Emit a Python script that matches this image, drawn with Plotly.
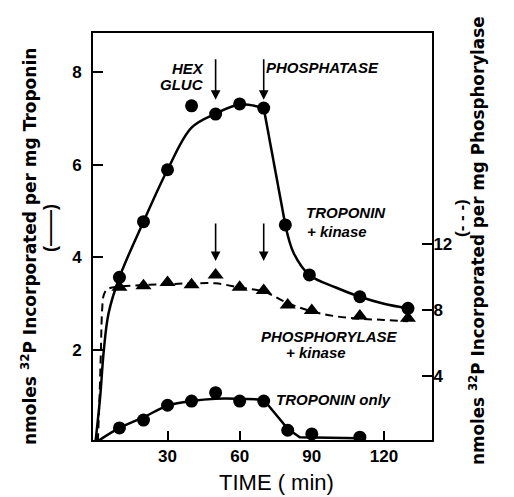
import plotly.graph_objects as go

# ---- data ----
time_trop_kinase = [10, 20, 30, 40, 50, 60, 70, 79, 89, 110, 130]
trop_kinase = [3.57, 4.77, 5.89, 7.27, 7.09, 7.31, 7.22, 4.70, 3.62, 3.15, 2.90]

# hand-drawn fit curve (solid), split at its corners
fit_tk_rise_t = [0, 2, 3.5, 5.5, 10, 20, 30, 40, 50, 60, 70]
fit_tk_rise_y = [0, 1.0, 2.0, 2.8, 3.57, 4.77, 5.89, 6.8, 7.1, 7.3, 7.22]
fit_tk_drop_t = [70, 79]
fit_tk_drop_y = [7.22, 4.70]
fit_tk_tail_t = [79, 82.5, 89, 100, 110, 120, 130]
fit_tk_tail_y = [4.70, 4.09, 3.62, 3.35, 3.15, 3.0, 2.9]

time_phos = [10, 20, 30, 40, 50, 60, 70, 80, 90, 110, 130]
phos_kinase = [9.37, 9.45, 9.65, 9.51, 10.1, 9.37, 9.16, 8.29, 7.95, 7.62, 7.48]
fit_phos_t = [1, 1.8, 2.3, 2.8, 3.5, 5, 10, 20, 30, 40, 50, 60, 70, 80, 90, 100, 110, 120, 130]
fit_phos_y = [0, 3.0, 5.6, 8.0, 8.9, 9.25, 9.4, 9.5, 9.55, 9.6, 9.6, 9.35, 9.1, 8.4, 7.9, 7.6, 7.45, 7.38, 7.3]

time_only = [10, 20, 30, 40, 50, 60, 70, 80, 90, 110]
trop_only = [0.32, 0.49, 0.81, 0.90, 1.08, 0.90, 0.90, 0.27, 0.19, 0.12]
fit_only_rise_t = [0, 10, 20, 30, 40, 50, 60, 70]
fit_only_rise_y = [0, 0.32, 0.55, 0.8, 0.9, 0.95, 0.95, 0.93]
fit_only_drop_t = [70, 80, 85, 110]
fit_only_drop_y = [0.93, 0.3, 0.12, 0.1]

arrow_times = [50, 70]
x_ticks = [30, 60, 90, 120]
left_ticks = [2, 4, 6, 8]
right_ticks = [4, 8, 12]

FONT = "Liberation Sans"
WIDE = "DejaVu Sans"
fig = go.Figure()

solid = dict(color="black", width=2.5)
for tx, ty, shape in [(fit_tk_rise_t, fit_tk_rise_y, "spline"),
                      (fit_tk_drop_t, fit_tk_drop_y, "linear"),
                      (fit_tk_tail_t, fit_tk_tail_y, "spline"),
                      (fit_only_rise_t, fit_only_rise_y, "spline"),
                      (fit_only_drop_t, fit_only_drop_y, "linear")]:
    fig.add_trace(go.Scatter(x=tx, y=ty, mode="lines", line=dict(solid, shape=shape),
                             hoverinfo="skip"))

fig.add_trace(go.Scatter(x=fit_phos_t, y=fit_phos_y, mode="lines", yaxis="y2",
                         line=dict(color="black", width=2, dash="8px,5px", shape="spline"),
                         hoverinfo="skip"))

fig.add_trace(go.Scatter(x=time_trop_kinase, y=trop_kinase, mode="markers",
                         marker=dict(symbol="circle", size=13, color="black")))
fig.add_trace(go.Scatter(x=time_only, y=trop_only, mode="markers",
                         marker=dict(symbol="circle", size=13, color="black")))
fig.add_trace(go.Scatter(x=time_phos, y=phos_kinase, mode="markers", yaxis="y2",
                         marker=dict(symbol="triangle-up", size=14, color="black")))

ann = []
# arrows
for t in arrow_times:
    ann.append(dict(x=t, y=7.40, xref="x", yref="y", ax=0, ay=-42, text="",
                    showarrow=True, arrowhead=2, arrowsize=1.2, arrowwidth=1.6,
                    arrowcolor="black"))
    ann.append(dict(x=t, y=3.92, xref="x", yref="y", ax=0, ay=-39, text="",
                    showarrow=True, arrowhead=2, arrowsize=1.2, arrowwidth=1.6,
                    arrowcolor="black"))

def px(x, y):
    return (x - 93) / 339, (440 - y) / 407

lab_font = dict(family=FONT, size=15, color="black")
def label(text, x, y, xanchor="left"):
    X, Y = px(x, y)
    ann.append(dict(x=X, y=Y, xref="paper", yref="paper", text="<b><i>" + text + "</i></b>",
                    showarrow=False, xanchor=xanchor, yanchor="middle", font=lab_font,
                    align="left"))

label("HEX", 206, 69, "right")
label("GLUC", 206, 85, "right")
label("PHOSPHATASE", 264, 67)
label("TROPONIN", 304, 212)
label("+ kinase", 305, 231)
label("PHOSPHORYLASE", 259, 336)
label("+ kinase", 284, 352)
label("TROPONIN only", 274, 399)

X, Y = px(29, 247)
ann.append(dict(x=X, y=Y, xref="paper", yref="paper", textangle=-90, showarrow=False,
                text="<b>nmoles <sup>32</sup>P Incorporated per mg Troponin</b>",
                xanchor="center", yanchor="middle",
                font=dict(family=WIDE, size=17, color="black")))
X, Y = px(50, 228)
ann.append(dict(x=X, y=Y, xref="paper", yref="paper", textangle=-90, showarrow=False,
                text="<b>(——)</b>", xanchor="center", yanchor="middle",
                font=dict(family=FONT, size=18, color="black")))
X, Y = px(477, 241)
ann.append(dict(x=X, y=Y, xref="paper", yref="paper", textangle=-90, showarrow=False,
                text="<b>nmoles <sup>32</sup>P Incorporated per mg Phosphorylase</b>",
                xanchor="center", yanchor="middle",
                font=dict(family=WIDE, size=16.8, color="black")))
X, Y = px(461, 218)
ann.append(dict(x=X, y=Y, xref="paper", yref="paper", textangle=-90, showarrow=False,
                text="<b>(- - -)</b>", xanchor="center", yanchor="middle",
                font=dict(family=FONT, size=17, color="black")))
X, Y = px(276, 482)
ann.append(dict(x=X, y=Y, xref="paper", yref="paper", showarrow=False,
                text="TIME ( min)", xanchor="center", yanchor="middle",
                font=dict(family=FONT, size=22, color="black")))

tick_font = dict(family=FONT, size=17, color="black", weight="bold")
fig.update_layout(
    width=514, height=497,
    margin=dict(l=93, r=82, t=33, b=57),
    paper_bgcolor="white", plot_bgcolor="white",
    showlegend=False,
    annotations=ann,
    xaxis=dict(range=[-1, 140], tickvals=x_ticks, ticks="inside", ticklen=9, tickwidth=2,
               tickcolor="black", showline=True, linecolor="black", linewidth=2,
               mirror=True, showgrid=False, zeroline=False, tickfont=tick_font),
    yaxis=dict(range=[0.06, 8.84], tickvals=left_ticks, ticks="inside", ticklen=10,
               tickwidth=2, tickcolor="black", showline=True, linecolor="black",
               linewidth=2, showgrid=False, zeroline=False, tickfont=tick_font,
               ticklabelstandoff=6),
    yaxis2=dict(range=[0.09, 24.8], tickvals=right_ticks, overlaying="y", side="right",
                ticks="inside", ticklen=10, tickwidth=2, tickcolor="black",
                showline=True, linecolor="black", linewidth=2, showgrid=False,
                zeroline=False, tickfont=tick_font, ticklabelstandoff=-4),
)

fig.write_html("out.html")
